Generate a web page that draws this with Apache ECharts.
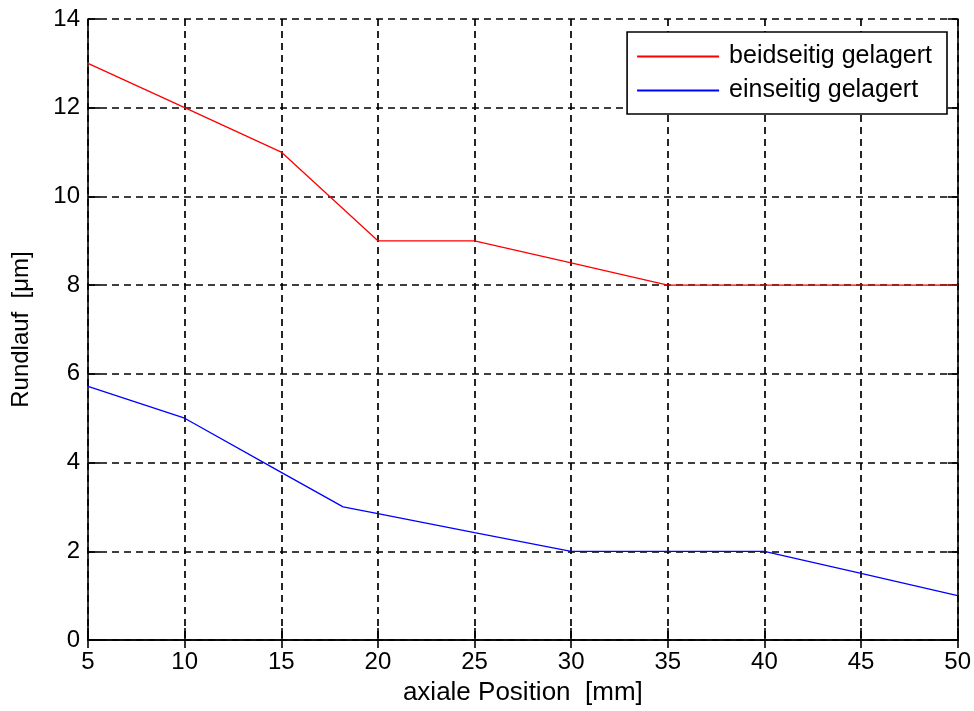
<!DOCTYPE html>
<html>
<head>
<meta charset="utf-8">
<script src="https://cdn.jsdelivr.net/npm/echarts@6/dist/echarts.min.js"></script>
<style>
  html, body { margin: 0; padding: 0; background: #fff; }
  #chart { width: 974px; height: 711px; }
</style>
</head>
<body>
<div id="chart"></div>
<script>
// Rundlauf measurements along the axial position
const posBeidseitig = [5, 10, 15, 20, 25, 30, 35, 40, 45, 50];
const valBeidseitig = [13, 12, 11, 9, 9, 8.5, 8, 8, 8, 8];

const posEinseitig = [5, 10, 15, 18.2, 20, 25, 30, 35, 40, 45, 50];
const valEinseitig = [5.72, 5, 3.78, 3, 2.85, 2.42, 2, 2, 2, 1.5, 1];

const seriesNames = ['beidseitig gelagert', 'einseitig gelagert'];
const xTitle = 'axiale Position  [mm]';
const yTitle = 'Rundlauf  [\u03bcm]';

const FONT = 'Liberation Sans, Arial, sans-serif';
const INK = '#000';

function pairs(xs, ys) {
  return xs.map((x, i) => [x, ys[i]]);
}

const frameLine = { show: true, lineStyle: { color: INK, width: 1.6 } };
const gridLine = { show: true, lineStyle: { color: INK, width: 1.7, type: [7, 5] } };

const chart = echarts.init(document.getElementById('chart'), null, { renderer: 'canvas' });
chart.setOption({
  animation: false,
  backgroundColor: '#fff',
  grid: { left: 88, right: 16, top: 19, bottom: 71, containLabel: false },
  legend: {
    orient: 'vertical',
    right: 27,
    top: 32,
    data: seriesNames,
    icon: 'rect',
    backgroundColor: '#fff',
    borderColor: INK,
    borderWidth: 1.6,
    borderRadius: 0,
    padding: [12, 15, 11, 10],
    itemWidth: 82,
    itemHeight: 2,
    itemGap: 9,
    textStyle: { fontFamily: FONT, fontSize: 25, color: INK, padding: [0, 0, 0, 5] }
  },
  xAxis: [
    {
      type: 'value', min: 5, max: 50, interval: 5, position: 'bottom',
      name: xTitle, nameLocation: 'middle', nameGap: 40,
      nameTextStyle: { fontFamily: FONT, fontSize: 26, color: INK },
      axisLine: frameLine,
      axisTick: { show: true, inside: true, length: 12, lineStyle: { color: INK, width: 1.6 } },
      axisLabel: { fontFamily: FONT, fontSize: 24, color: INK, margin: 10 },
      splitLine: gridLine
    },
    {
      type: 'value', min: 5, max: 50, interval: 5, position: 'top',
      axisLine: frameLine,
      axisTick: { show: true, inside: true, length: 8, lineStyle: { color: INK, width: 1.6 } },
      axisLabel: { show: false },
      splitLine: { show: false }
    }
  ],
  yAxis: [
    {
      type: 'value', min: 0, max: 14, interval: 2, position: 'left',
      name: yTitle, nameLocation: 'middle', nameGap: 55, nameRotate: 90,
      nameTextStyle: { fontFamily: FONT, fontSize: 24, color: INK },
      axisLine: frameLine,
      axisTick: { show: true, inside: true, length: 12, lineStyle: { color: INK, width: 1.6 } },
      axisLabel: { fontFamily: FONT, fontSize: 24, color: INK, margin: 8 },
      splitLine: gridLine
    },
    {
      type: 'value', min: 0, max: 14, interval: 2, position: 'right',
      axisLine: frameLine,
      axisTick: { show: true, inside: true, length: 10, lineStyle: { color: INK, width: 1.6 } },
      axisLabel: { show: false },
      splitLine: { show: false }
    }
  ],
  series: [
    {
      name: seriesNames[0], type: 'line', xAxisIndex: 0, yAxisIndex: 0,
      data: pairs(posBeidseitig, valBeidseitig),
      symbol: 'none', lineStyle: { color: '#ff0000', width: 1.3 }, itemStyle: { color: '#ff0000' },
      z: 5
    },
    {
      name: seriesNames[1], type: 'line', xAxisIndex: 0, yAxisIndex: 0,
      data: pairs(posEinseitig, valEinseitig),
      symbol: 'none', lineStyle: { color: '#0000ff', width: 1.3 }, itemStyle: { color: '#0000ff' },
      z: 5
    }
  ]
});
</script>
</body>
</html>
